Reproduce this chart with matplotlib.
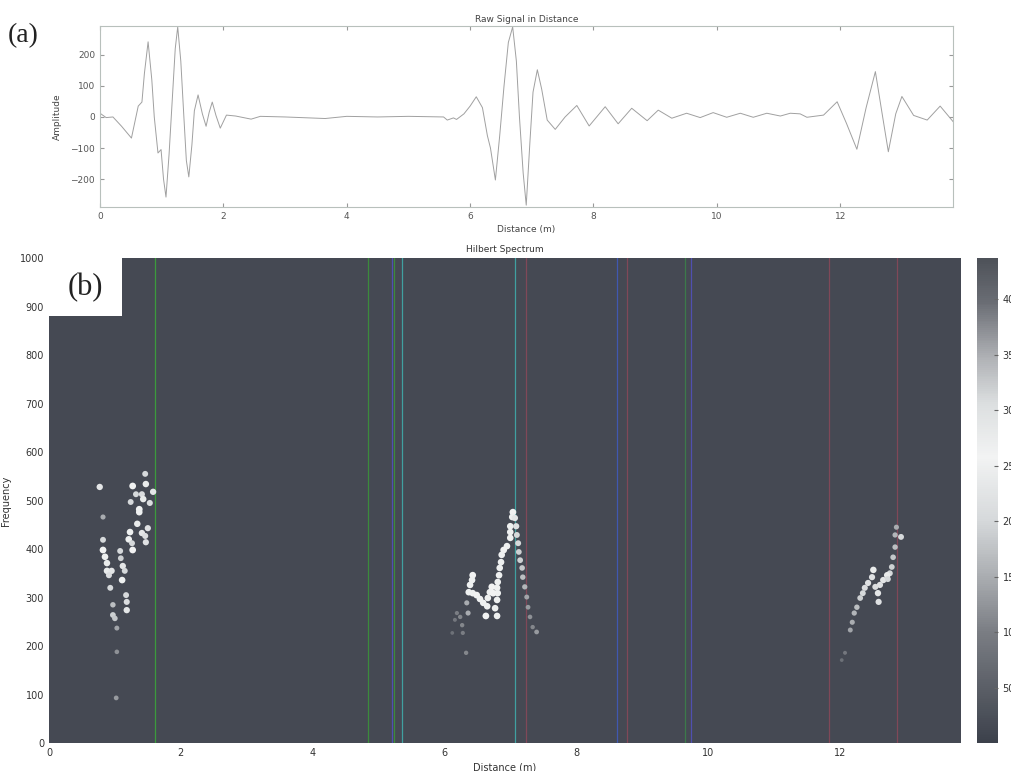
import numpy as np
import matplotlib
matplotlib.use("Agg")
import matplotlib.pyplot as plt
from matplotlib.colors import LinearSegmentedColormap, Normalize
from matplotlib.patches import Rectangle

# raw signal
dist = [0, 0.05, 0.1, 0.21, 0.35, 0.51, 0.62, 0.68, 0.72, 0.78, 0.84, 0.88, 0.94, 0.99,
        1.03, 1.07, 1.12, 1.17, 1.22, 1.26, 1.31, 1.36, 1.40, 1.44, 1.49, 1.53, 1.59,
        1.66, 1.72, 1.77, 1.82, 1.88, 1.95, 2.05, 2.2, 2.45, 2.6, 3.0, 3.65, 4.0, 4.5,
        5.0, 5.57, 5.63, 5.73, 5.78, 5.9, 6.0, 6.10, 6.2, 6.28, 6.33, 6.41, 6.48, 6.55,
        6.62, 6.69, 6.75, 6.80, 6.86, 6.91, 6.97, 7.02, 7.09, 7.16, 7.25, 7.38, 7.54,
        7.73, 7.93, 8.19, 8.40, 8.62, 8.87, 9.05, 9.27, 9.51, 9.73, 9.94, 10.16, 10.38,
        10.59, 10.81, 11.03, 11.19, 11.35, 11.46, 11.73, 11.95, 12.1, 12.27, 12.42,
        12.57, 12.68, 12.78, 12.9, 13.0, 13.19, 13.41, 13.62, 13.83]
amplitude = [12, 5, -2, 0, -30, -68, 35, 48, 140, 242, 120, 0, -116, -105,
             -200, -258, -120, 50, 220, 290, 180, 0, -140, -193, -90, 20, 71,
             10, -30, 15, 48, 5, -36, 6, 3, -7, 2, 0, -5, 2, 0,
             2, 0, -10, -3, -8, 10, 35, 65, 30, -60, -100, -203, -60, 100,
             240, 290, 180, 0, -180, -284, -80, 80, 152, 90, -10, -40, 0,
             37, -29, 33, -22, 28, -12, 22, -4, 12, -2, 14, -1, 12,
             -1, 12, 3, 12, 10, -1, 6, 49, -20, -104, 30,
             146, 10, -112, 10, 66, 5, -10, 35, -15]

# hilbert spectrum points (distance m, frequency, amplitude)
hs_dist = [1.46, 1.27, 1.47, 0.77, 1.58, 1.32, 1.41, 1.43, 1.24, 1.53, 1.37, 1.37, 0.82,
           1.34, 1.50, 1.23, 1.41, 1.46, 0.82, 1.21, 1.26, 1.47, 1.27, 0.82, 1.08, 0.85,
           1.09, 0.88, 1.12, 0.88, 0.95, 1.15, 0.91, 1.11, 0.93, 1.17, 1.18, 0.97, 1.18,
           0.97, 1.00, 1.03, 1.03, 1.02,
           7.04, 7.03, 7.07, 7.00, 7.09, 7.00, 7.10, 7.00, 6.95, 7.12, 6.90, 7.13, 6.87,
           7.15, 6.86, 6.84, 7.18, 6.83, 7.19, 6.81, 6.80, 7.22, 6.81, 6.80, 6.77, 6.80,
           6.43, 6.42, 6.39, 6.37, 6.43, 6.49, 6.54, 6.59, 6.65, 6.63, 6.72, 6.69, 6.74,
           6.66, 6.34, 6.36, 6.19, 6.24, 6.27, 6.28, 6.33, 6.16, 6.12, 7.25, 7.27, 7.30,
           7.34, 7.40,
           12.86, 12.93, 12.84, 12.84, 12.81, 12.79, 12.76, 12.72, 12.66, 12.61, 12.58,
           12.59, 12.54, 12.51, 12.49, 12.43, 12.38, 12.35, 12.31, 12.26, 12.22, 12.19,
           12.16, 12.08, 12.03, 12.73]
hs_freq = [555, 530, 534, 528, 518, 513, 513, 503, 497, 495, 482, 476, 466,
           452, 443, 435, 433, 427, 419, 420, 412, 414, 398, 398, 396, 384,
           381, 371, 365, 355, 355, 355, 346, 336, 320, 305, 291, 285, 274,
           264, 257, 237, 188, 93,
           476, 466, 464, 447, 447, 435, 429, 423, 406, 412, 398, 394, 388,
           377, 373, 361, 361, 346, 342, 332, 320, 322, 309, 295, 278, 262,
           346, 336, 326, 311, 309, 305, 297, 289, 282, 262, 322, 311, 309,
           299, 289, 268, 268, 260, 243, 227, 186, 254, 227, 301, 280, 260,
           239, 229,
           445, 425, 429, 404, 383, 363, 350, 346, 336, 326, 309,
           291, 322, 357, 342, 330, 320, 309, 299, 280, 268, 249,
           233, 186, 171, 338]
hs_amp = [200, 260, 240, 230, 230, 200, 210, 240, 200, 210, 260, 250, 150,
          240, 220, 250, 230, 210, 200, 250, 200, 220, 260, 260, 200, 250,
          190, 240, 230, 240, 230, 200, 210, 250, 200, 200, 210, 170, 230,
          190, 180, 140, 120, 130,
          260, 250, 230, 250, 220, 250, 200, 250, 250, 200, 260, 190, 250,
          190, 250, 250, 180, 250, 170, 250, 250, 160, 250, 250, 250, 250,
          260, 250, 250, 250, 250, 260, 250, 250, 250, 260, 260, 250, 260,
          250, 150, 150, 100, 110, 110, 100, 110, 90, 80, 140, 130, 120,
          110, 130,
          150, 200, 160, 170, 180, 190, 200, 240, 230, 220, 230,
          220, 210, 240, 220, 220, 210, 200, 190, 170, 160, 150,
          140, 90, 80, 200]

# coloured vertical lines in panel (b)
vline_pos = [1.61, 4.84, 5.20, 5.24, 5.36, 7.07, 7.24, 8.62, 8.77, 9.65, 9.74, 11.84, 12.87]
vline_col = ["#3c9a3c", "#3c8a3c", "#5050b0", "#3c8a3c", "#40a0a0", "#40a0a0", "#804858",
             "#4058b0", "#804858", "#3c7a4a", "#5050b0", "#804858", "#804858"]

cmap = LinearSegmentedColormap.from_list("hs", [
    (0.0, "#3c414b"), (0.23, "#7b7e84"), (0.34, "#a9acb0"), (0.46, "#d6d9db"),
    (0.59, "#f2f3f3"), (0.70, "#dcdfe0"), (0.80, "#adafb3"), (0.91, "#6a6d74"),
    (1.0, "#4e5259")])
norm = Normalize(0, 437)

fig = plt.figure(figsize=(10.12, 7.71), dpi=100)
tc = "#555555"

# panel (a)
ax1 = fig.add_axes([0.0988, 0.7315, 0.843, 0.2348])
ax1.plot(dist, amplitude, color="#a0a0a0", lw=0.7)
ax1.set_xlim(0, 13.83)
ax1.set_ylim(-290, 293)
ax1.set_xticks(range(0, 13, 2))
ax1.set_yticks([-200, -100, 0, 100, 200])
ax1.tick_params(direction="in", top=True, right=True, length=3, labelsize=6.5,
                colors="#999999", labelcolor=tc)
for s in ax1.spines.values():
    s.set_color("#b8c0bc")
ax1.set_title("Raw Signal in Distance", fontsize=6.5, color="#444444", pad=3)
ax1.set_xlabel("Distance (m)", fontsize=6.5, color="#444444", labelpad=3)
ax1.set_ylabel("Amplitude", fontsize=6.5, color="#444444", labelpad=6)
fig.text(0.008, 0.945, "(a)", fontsize=20, family="Liberation Serif", color="#222222")

# panel (b)
ax2 = fig.add_axes([0.0484, 0.0363, 0.9012, 0.629])
ax2.set_facecolor(cmap(norm(14)))
for x, c in zip(vline_pos, vline_col):
    ax2.axvline(x, color=c, lw=0.9, zorder=1)
amps = np.array(hs_amp)
ax2.scatter(hs_dist, hs_freq, c=amps, cmap=cmap, norm=norm, s=amps / 11,
            edgecolors="none", zorder=2)
ax2.set_xlim(0, 13.84)
ax2.set_ylim(0, 1000)
ax2.set_xticks(range(0, 13, 2))
ax2.set_yticks(range(0, 1001, 100))
ax2.tick_params(direction="in", length=0, labelsize=7, labelcolor="#333333")
for s in ax2.spines.values():
    s.set_visible(False)
ax2.set_title("Hilbert Spectrum", fontsize=6.5, color="#333333", pad=4)
ax2.set_xlabel("Distance (m)", fontsize=7, color="#333333", labelpad=3)
ax2.set_ylabel("Frequency", fontsize=7, color="#333333", labelpad=6)
ax2.add_patch(Rectangle((0, 0.88), 0.08, 0.12, transform=ax2.transAxes,
                        fc="white", ec="none", zorder=3))
ax2.text(0.04, 0.94, "(b)", transform=ax2.transAxes, fontsize=22,
         family="Liberation Serif", color="#222222", va="center", ha="center",
         zorder=4)

cax = fig.add_axes([0.9654, 0.0363, 0.0205, 0.629])
sm = plt.cm.ScalarMappable(cmap=cmap, norm=norm)
cb = fig.colorbar(sm, cax=cax, ticks=range(50, 401, 50))
cb.outline.set_visible(False)
cax.tick_params(direction="in", length=3, labelsize=7, colors="#666666",
                labelcolor="#333333")

fig.savefig("out.png", dpi=100)
